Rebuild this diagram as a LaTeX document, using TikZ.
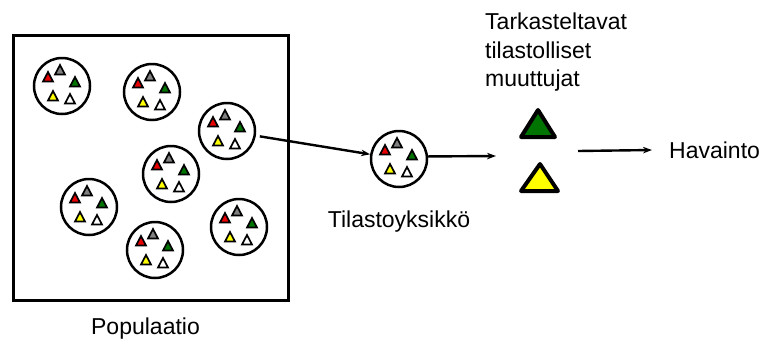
\documentclass[tikz,border=0pt]{standalone}
\usepackage{fontspec}
\setmainfont{Liberation Sans}
\usetikzlibrary{arrows.meta,positioning}
\definecolor{punainen}{HTML}{E80000}
\definecolor{vihrea}{HTML}{007400}
\definecolor{harmaa}{HTML}{808080}
\definecolor{keltainen}{HTML}{FFFF00}

\tikzset{
  kolmio/.pic={\draw[line width=1.7pt,fill=#1] (-5,4.5) -- (5,4.5) -- (0,-5) -- cycle;},
  jasen/.style={circle,draw,line width=2.5pt,minimum size=56pt,inner sep=0pt},
  iso/.style={draw,line width=4pt,line join=round},
  nuoli/.style={-{Stealth[length=9pt,width=6.5pt]},line width=2.4pt},
  teksti/.style={font=\fontsize{23}{28.5}\selectfont,inner sep=0pt}
}

\begin{document}
\begin{tikzpicture}[x=1pt,y=-1pt]
  \useasboundingbox (0,0) rectangle (763,341);

  % populaatio
  \node[draw,line width=3pt,minimum width=275pt,minimum height=265pt] (pop) at (150.5,167.5) {};
  \node[teksti,below=16pt of pop,xshift=-5pt] (poplabel) {Populaatio};

  % jasenet
  \foreach \n/\x/\y in {1/62/86,2/152/92,3/227/131,4/171/174,5/89/207,6/155/250,7/239/227,yks/399/159}{
    \node[jasen] (j\n) at (\x,\y) {};
    \begin{scope}[shift={(\x,\y)}]
      \pic at (-14,-9) {kolmio=punainen};
      \pic at (-2,-16) {kolmio=harmaa};
      \pic at (13,-4) {kolmio=vihrea};
      \pic at (-9,10) {kolmio=keltainen};
      \pic at (8,13) {kolmio=white};
    \end{scope}
  }
  \node[teksti,below=22pt of jyks] (ykslabel) {Tilastoyksikkö};

  % muuttujat
  \node[teksti,anchor=north west,align=left] (muutlabel) at (485,13)
    {Tarkasteltavat\\tilastolliset\\muuttujat};
  \draw[iso,fill=vihrea] (521,137) -- (555,137) -- (538,110) -- cycle;
  \draw[iso,fill=keltainen] (521,191) -- (558,191) -- (540,164) -- cycle;

  % havainto
  \node[teksti,anchor=base west] (havainto) at (669,158) {Havainto};
  \coordinate (kohde) at (496,156);
  \coordinate (lahto) at (578,151);

  % nuolet
  \draw[nuoli,shorten <=4pt] (j3) -- (jyks);
  \draw[nuoli] (jyks.5) -- (kohde);
  \draw[nuoli,shorten >=17pt] (lahto) -- (havainto.west);
\end{tikzpicture}
\end{document}
